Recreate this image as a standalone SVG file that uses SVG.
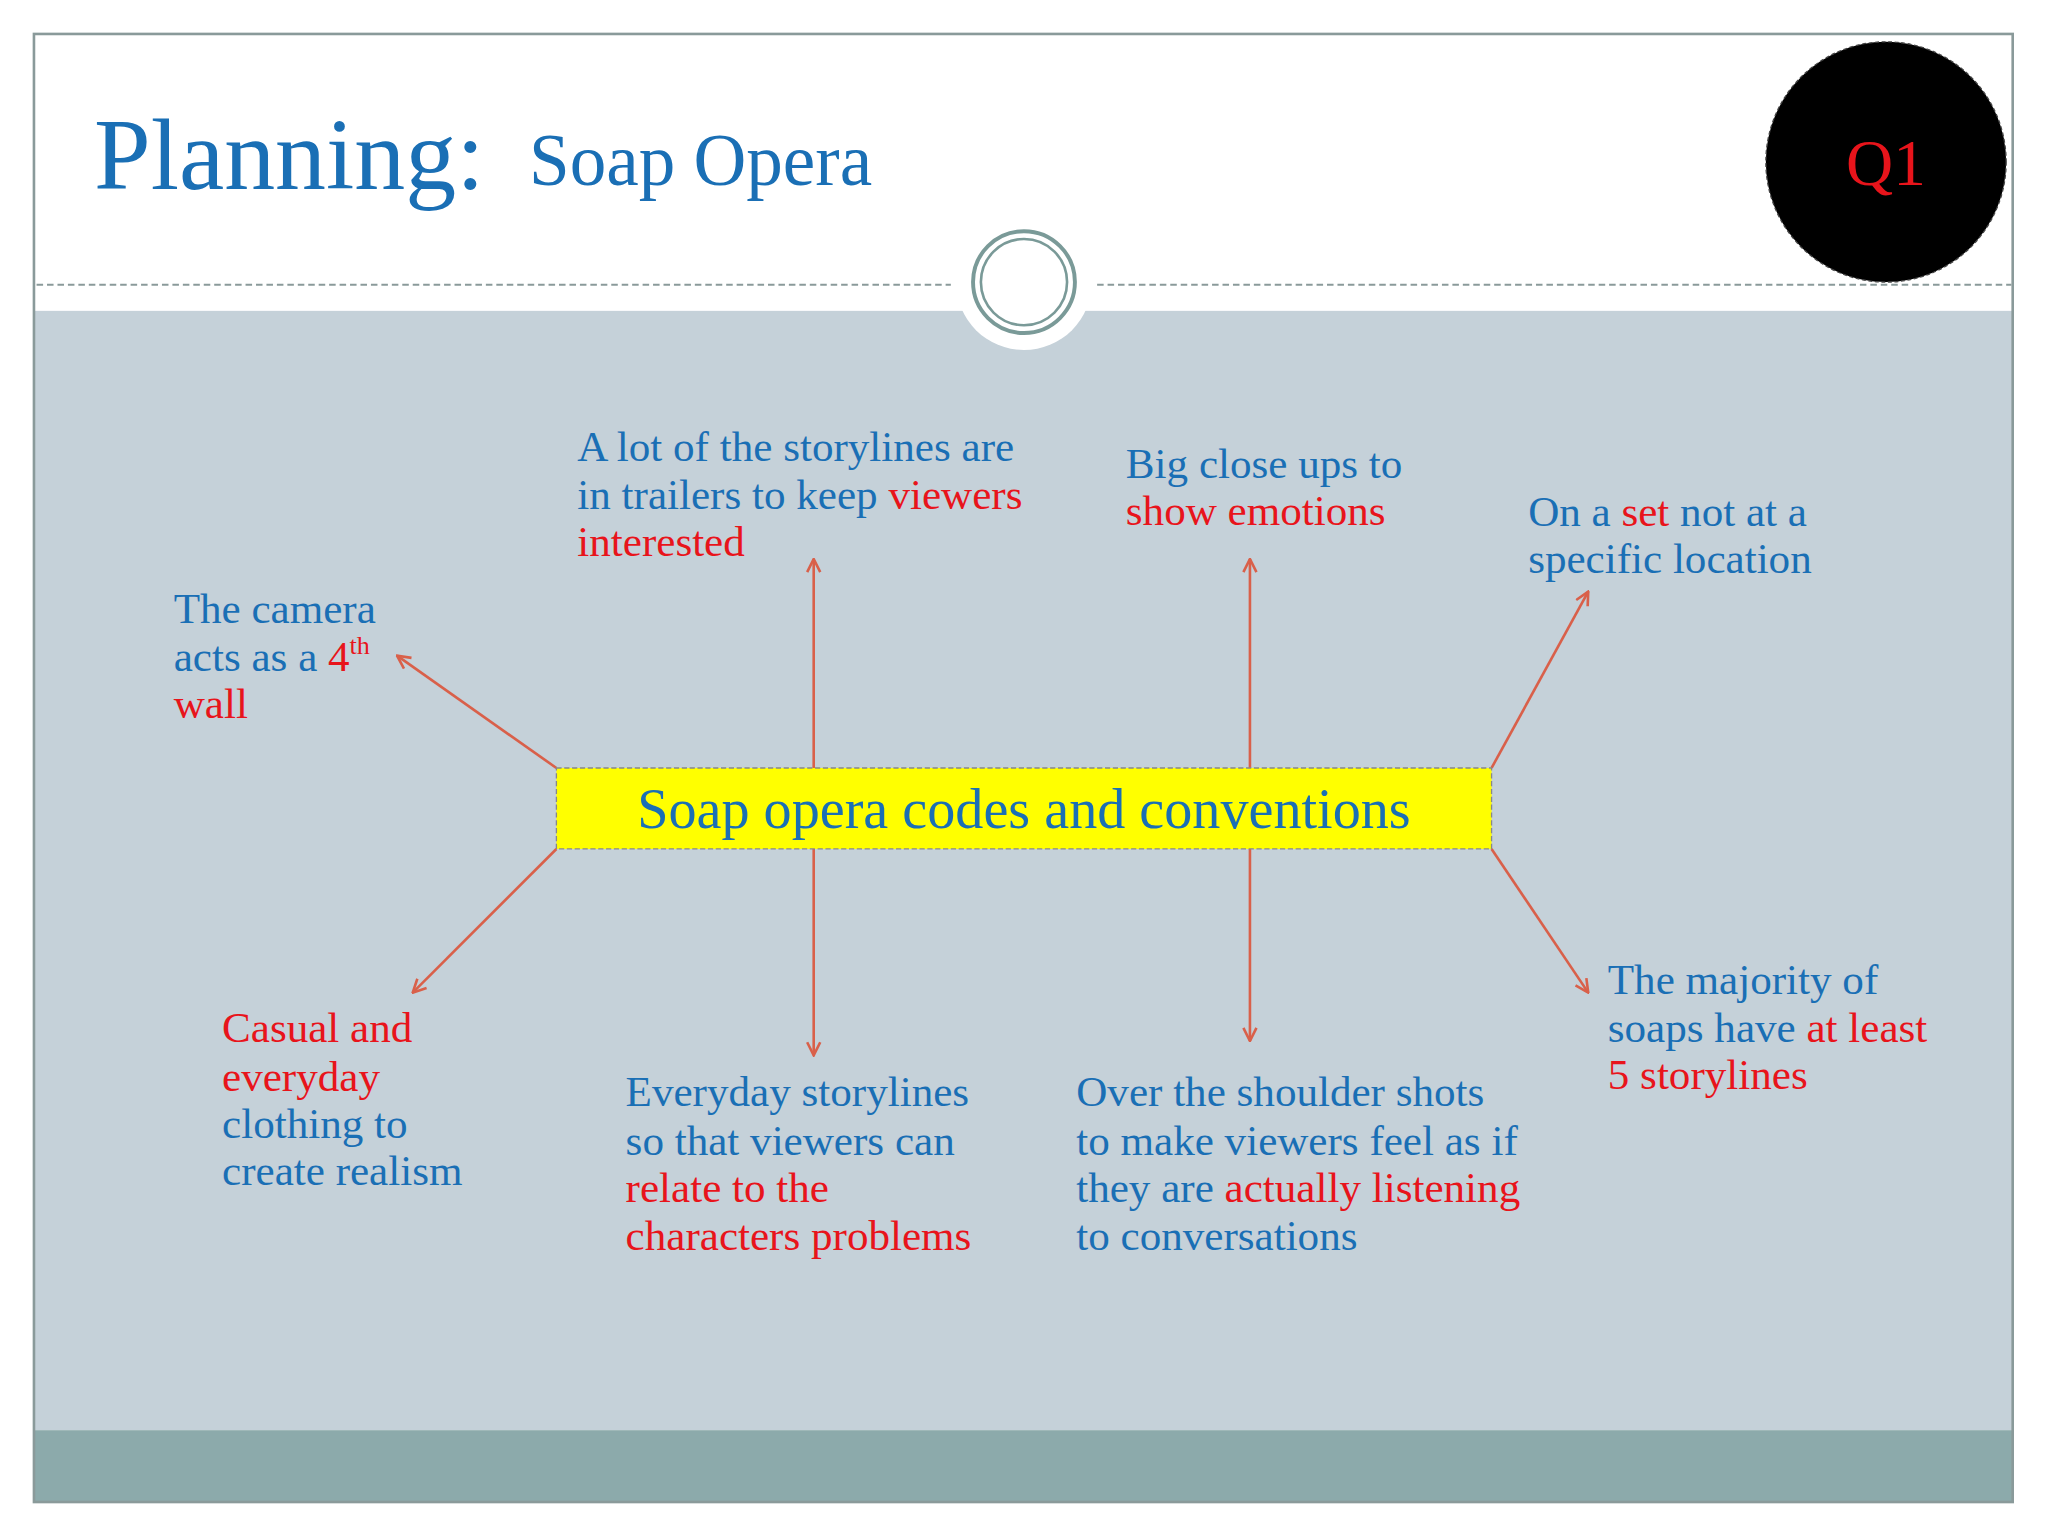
<svg xmlns="http://www.w3.org/2000/svg" width="2048" height="1536" viewBox="0 0 2048 1536">
<style>
.t{font-family:"Liberation Serif","DejaVu Serif",serif;font-size:33px;fill:#1a6fb5}
.r{fill:#e8141b}
.a{stroke:#d9604a;stroke-width:2;fill:none;marker-end:url(#ah)}
</style>
<defs><marker id="ah" viewBox="0 0 12 12" refX="11" refY="6" markerWidth="12" markerHeight="12" markerUnits="userSpaceOnUse" orient="auto"><path d="M1,1 L11,6 L1,11" fill="none" stroke="#d9604a" stroke-width="2"/></marker></defs>
<rect width="2048" height="1536" fill="#fff"/>
<g transform="scale(1.3061)">
<rect x="26" y="238" width="1515" height="857" fill="#c5d1d9"/>
<rect x="26" y="1095" width="1515" height="55" fill="#8caaab"/>
<rect x="26" y="26" width="1515" height="1124" fill="none" stroke="#8a9a9a" stroke-width="2"/>
<path d="M28,218 H728 M840,218 H1540" stroke="#8a9a9a" stroke-width="1.5" stroke-dasharray="5,3"/>
<circle cx="784" cy="216" r="52" fill="#fff"/>
<circle cx="784" cy="216" r="39" fill="none" stroke="#7a9a98" stroke-width="3"/>
<circle cx="784" cy="216" r="33" fill="none" stroke="#7a9a98" stroke-width="2"/>
<g id="q1"><circle cx="1444" cy="124" r="92" fill="#000" stroke="#444" stroke-dasharray="3,2"/>
<text x="1444" y="142" text-anchor="middle" font-family="Liberation Serif,serif" font-size="50" fill="#e8141b">Q1</text></g>
<g id="title"><text x="72" y="145" font-family="Liberation Serif,serif" font-size="78" fill="#1a6fb5">Planning:</text>
<text x="405" y="142" font-family="Liberation Serif,serif" font-size="56" fill="#1a6fb5">Soap Opera</text></g>
<g id="conn">
<path class="a" d="M426,588 L304,502"/>
<path class="a" d="M623,588 L623,428"/>
<path class="a" d="M957,588 L957,428"/>
<path class="a" d="M1142,588 L1216,453"/>
<path class="a" d="M426,650 L316,760"/>
<path class="a" d="M623,650 L623,808"/>
<path class="a" d="M957,650 L957,797"/>
<path class="a" d="M1142,650 L1216,760"/>
</g>
<g id="center"><rect x="426" y="588" width="716" height="62" fill="#ffff00" stroke="#888" stroke-dasharray="4,2"/>
<text x="784" y="634" text-anchor="middle" class="t" style="font-size:43px">Soap opera codes and conventions</text></g>
<g id="n1"><text class="t" x="133" y="477">The camera</text><text class="t" x="133" y="514">acts as a <tspan class="r">4<tspan font-size="20" dy="-13">th</tspan></tspan></text><text class="t r" x="133" y="550">wall</text></g>
<g id="n2"><text class="t" x="442" y="353">A lot of the storylines are</text><text class="t" x="442" y="390">in trailers to keep <tspan class="r">viewers</tspan></text><text class="t r" x="442" y="426">interested</text></g>
<g id="n3"><text class="t" x="862" y="366">Big close ups to</text><text class="t r" x="862" y="402">show emotions</text></g>
<g id="n4"><text class="t" x="1170" y="403">On a <tspan class="r">set</tspan> not at a</text><text class="t" x="1170" y="439">specific location</text></g>
<g id="n5"><text class="t r" x="170" y="798">Casual and</text><text class="t r" x="170" y="835">everyday</text><text class="t" x="170" y="871">clothing to</text><text class="t" x="170" y="907">create realism</text></g>
<g id="n6"><text class="t" x="479" y="847">Everyday storylines</text><text class="t" x="479" y="884">so that viewers can</text><text class="t r" x="479" y="920">relate to the</text><text class="t r" x="479" y="957">characters problems</text></g>
<g id="n7"><text class="t" x="824" y="847">Over the shoulder shots</text><text class="t" x="824" y="884">to make viewers feel as if</text><text class="t" x="824" y="920">they are <tspan class="r">actually listening</tspan></text><text class="t" x="824" y="957">to conversations</text></g>
<g id="n8"><text class="t" x="1231" y="761">The majority of</text><text class="t" x="1231" y="798">soaps have <tspan class="r">at least</tspan></text><text class="t r" x="1231" y="834">5 storylines</text></g>
</g>
</svg>
